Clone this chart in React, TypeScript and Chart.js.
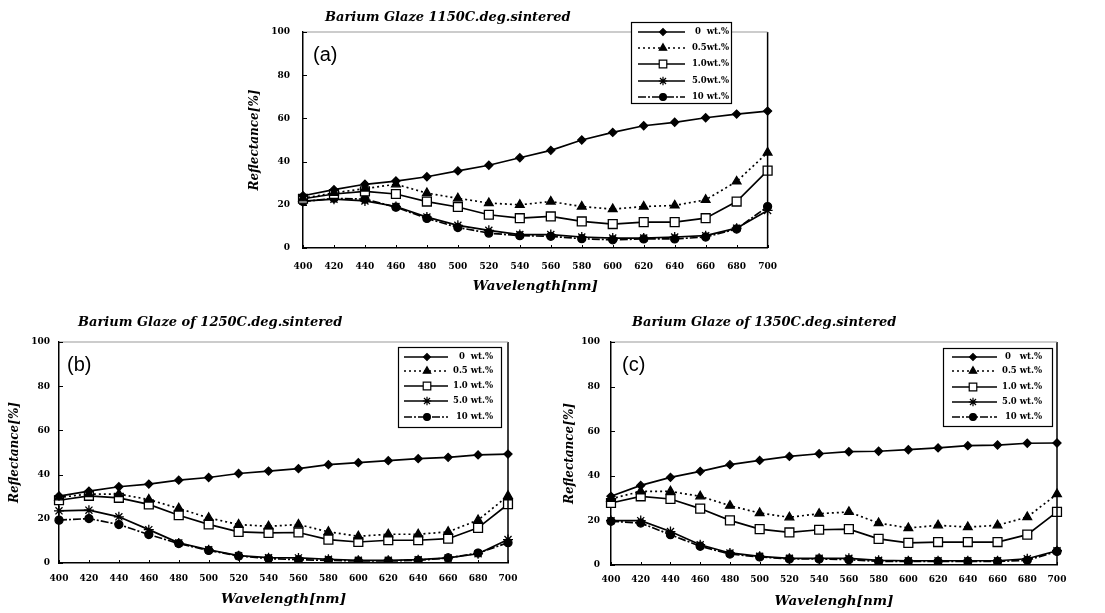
import React, { useEffect, useRef } from 'react';
import { Chart, registerables } from 'chart.js';
import { drawPoint } from 'chart.js/helpers';

Chart.register(...registerables);

const wavelengths = [400, 420, 440, 460, 480, 500, 520, 540, 560, 580, 600, 620, 640, 660, 680, 700];
const yTickValues = [0, 20, 40, 60, 80, 100];

// Panel (a) 1150C
const a0 = [24.2, 27.0, 29.5, 31.0, 33.0, 35.7, 38.3, 41.8, 45.2, 50.0, 53.5, 56.6, 58.2, 60.3, 62.0, 63.4];
const a05 = [23.0, 25.5, 27.5, 29.5, 25.4, 23.0, 20.8, 20.0, 21.5, 19.2, 18.0, 19.2, 19.7, 22.3, 30.8, 44.2];
const a1 = [22.8, 25.0, 26.2, 25.0, 21.5, 19.0, 15.4, 13.8, 14.6, 12.3, 11.1, 12.0, 12.0, 13.8, 21.5, 35.8];
const a5 = [21.7, 22.6, 21.8, 19.2, 14.3, 10.5, 8.2, 6.2, 6.2, 5.1, 4.6, 4.6, 5.1, 5.7, 9.2, 17.4];
const a10 = [21.5, 23.0, 22.6, 18.9, 13.7, 9.5, 6.9, 5.7, 5.4, 4.3, 3.8, 4.2, 4.2, 5.1, 8.8, 19.2];

// Panel (b) 1250C
const b0 = [30.3, 32.5, 34.5, 35.7, 37.5, 38.7, 40.5, 41.6, 42.7, 44.5, 45.4, 46.3, 47.2, 47.8, 48.9, 49.3];
const b05 = [29.7, 31.2, 31.2, 28.7, 24.7, 20.4, 17.4, 16.6, 17.4, 14.1, 12.1, 13.0, 13.0, 14.1, 19.4, 30.4];
const b1 = [28.4, 30.4, 29.5, 26.5, 21.6, 17.5, 14.1, 13.6, 13.8, 10.6, 9.5, 10.3, 10.3, 11.0, 15.9, 26.6];
const b5 = [23.6, 23.9, 20.9, 15.1, 9.1, 6.0, 3.3, 2.4, 2.3, 1.7, 1.2, 1.2, 1.5, 2.3, 4.2, 10.6];
const b10 = [19.4, 20.1, 17.4, 12.9, 8.8, 5.7, 3.2, 2.0, 1.5, 1.2, 0.9, 0.9, 1.2, 2.3, 4.5, 9.2];

// Panel (c) 1350C
const c0 = [30.8, 35.7, 39.3, 42.0, 45.0, 46.9, 48.7, 49.9, 50.8, 51.0, 51.7, 52.5, 53.5, 53.8, 54.6, 54.7];
const c05 = [29.7, 33.0, 33.0, 30.8, 26.6, 23.3, 21.4, 23.0, 23.8, 18.8, 16.6, 17.8, 17.0, 17.8, 21.5, 31.8];
const c1 = [27.8, 30.8, 29.6, 25.3, 20.0, 16.1, 14.6, 15.8, 16.1, 11.7, 9.9, 10.3, 10.3, 10.3, 13.6, 23.8];
const c5 = [19.9, 19.9, 15.0, 9.1, 5.4, 3.9, 3.0, 3.0, 3.0, 2.1, 1.9, 1.9, 1.9, 1.9, 2.8, 6.4];
const c10 = [19.6, 18.8, 13.6, 8.4, 4.9, 3.6, 2.7, 2.7, 2.4, 1.6, 1.6, 1.6, 1.6, 1.6, 2.1, 6.1];

const legendA = ['0  wt.%', '0.5wt.%', '1.0wt.%', '5.0wt.%', '10 wt.%'];
const legendB = ['0  wt.%', '0.5 wt.%', '1.0 wt.%', '5.0 wt.%', '10 wt.%'];
const legendC = ['0   wt.%', '0.5 wt.%', '1.0 wt.%', '5.0 wt.%', '10 wt.%'];

const titleA = 'Barium Glaze 1150C.deg.sintered';
const titleB = 'Barium Glaze of 1250C.deg.sintered';
const titleC = 'Barium Glaze of 1350C.deg.sintered';

const SERIES_STYLES = [
  { pointStyle: 'rectRot', radius: 4, bg: '#000', dash: [] as number[] },
  { pointStyle: 'triangle', radius: 5, bg: '#000', dash: [2, 3] },
  { pointStyle: 'rect', radius: 6.3, bg: '#fff', dash: [] as number[] },
  { pointStyle: 'star', radius: 5, bg: '#000', dash: [] as number[] },
  { pointStyle: 'circle', radius: 4, bg: '#000', dash: [8, 2, 2, 2] },
];

const SERIF = "'DejaVu Serif', serif";

const decorPlugin = {
  id: 'decor',
  afterDraw(chart: any, _args: any, opts: any) {
    const { ctx, chartArea: ca, scales } = chart;
    ctx.save();
    // top + right frame
    ctx.strokeStyle = '#000';
    ctx.lineWidth = 1.5;
    ctx.beginPath();
    ctx.moveTo(ca.right, ca.top);
    ctx.lineTo(ca.right, ca.bottom);
    ctx.stroke();
    ctx.strokeStyle = '#999';
    ctx.lineWidth = 1;
    ctx.beginPath();
    ctx.moveTo(ca.left, ca.top);
    ctx.lineTo(ca.right, ca.top);
    ctx.stroke();
    // inward ticks
    ctx.strokeStyle = '#000';
    ctx.lineWidth = 1;
    ctx.beginPath();
    scales.y.ticks.forEach((t: any) => {
      const py = Math.round(scales.y.getPixelForValue(t.value)) + 0.5;
      ctx.moveTo(ca.left, py);
      ctx.lineTo(ca.left + 4, py);
    });
    scales.x.ticks.forEach((_t: any, i: number) => {
      const px = Math.round(scales.x.getPixelForTick(i)) + 0.5;
      ctx.moveTo(px, ca.bottom);
      ctx.lineTo(px, ca.bottom - 3);
    });
    ctx.stroke();
    // title
    ctx.fillStyle = '#000';
    ctx.font = `italic bold 13px ${SERIF}`;
    ctx.textAlign = 'left';
    ctx.textBaseline = 'middle';
    ctx.fillText(opts.title, opts.titleX, opts.titleY);
    // panel label
    ctx.font = "20px 'Liberation Sans', Arial, sans-serif";
    ctx.fillText(opts.panel, opts.panelX, opts.panelY);
    // legend
    const L = opts.legend;
    ctx.fillStyle = '#fff';
    ctx.fillRect(L.x1, L.y1, L.x2 - L.x1, L.y2 - L.y1);
    ctx.strokeStyle = '#000';
    ctx.lineWidth = 1.2;
    ctx.strokeRect(L.x1 + 0.5, L.y1 + 0.5, L.x2 - L.x1, L.y2 - L.y1);
    chart.data.datasets.forEach((ds: any, i: number) => {
      const y = L.rows[i];
      ctx.strokeStyle = '#000';
      ctx.lineWidth = 1.4;
      ctx.setLineDash(ds.borderDash || []);
      ctx.beginPath();
      ctx.moveTo(L.lx1, y);
      ctx.lineTo(L.lx2, y);
      ctx.stroke();
      ctx.setLineDash([]);
      ctx.fillStyle = ds.pointBackgroundColor;
      ctx.strokeStyle = '#000';
      ctx.lineWidth = 1.2;
      drawPoint(ctx, { pointStyle: ds.pointStyle, radius: ds.pointRadius * 0.85, rotation: 0, borderWidth: 1.2 } as any, L.mx, y);
      ctx.fillStyle = '#000';
      ctx.font = `bold 8.5px ${SERIF}`;
      ctx.textAlign = 'right';
      ctx.textBaseline = 'middle';
      ctx.fillText(ds.label, L.tx, y);
    });
    ctx.restore();
  },
};

type PanelProps = {
  left: number; top: number; width: number; height: number;
  plot: { left: number; right: number; top: number; bottom: number };
  series: number[][];
  names: string[];
  title: string; titleX: number; titleY: number;
  panel: string; panelX: number; panelY: number;
  xTitle: string;
  yTitlePad: number; yTickPad: number; xTickPad: number; xTitlePad: number;
  legend: any;
};

function Panel(p: PanelProps) {
  const ref = useRef<HTMLCanvasElement>(null);
  useEffect(() => {
    if (!ref.current) return;
    const yWidth = p.plot.left;
    const xHeight = p.height - p.plot.bottom;
    const chart = new Chart(ref.current, {
      type: 'line',
      data: {
        labels: wavelengths.map(String),
        datasets: p.series.map((vals, i) => {
          const st = SERIES_STYLES[i];
          return {
            label: p.names[i],
            data: vals,
            borderColor: '#000',
            borderWidth: 1.7,
            borderDash: st.dash,
            pointStyle: st.pointStyle as any,
            pointRadius: st.radius,
            pointBackgroundColor: st.bg,
            pointBorderColor: '#000',
            pointBorderWidth: 1.3,
            tension: 0,
            fill: false,
          };
        }),
      },
      options: {
        responsive: false,
        animation: false,
        devicePixelRatio: 1,
        events: [],
        layout: { padding: { left: 0, top: p.plot.top, right: p.width - p.plot.right, bottom: 0 } },
        plugins: {
          legend: { display: false },
          tooltip: { enabled: false },
          title: { display: false },
          decor: {
            title: p.title, titleX: p.titleX, titleY: p.titleY,
            panel: p.panel, panelX: p.panelX, panelY: p.panelY,
            legend: p.legend,
          },
        } as any,
        scales: {
          x: {
            type: 'category',
            offset: false,
            grid: { display: false, drawTicks: false },
            border: { display: true, color: '#000', width: 1.5 },
            ticks: {
              autoSkip: false, maxRotation: 0, color: '#000', padding: p.xTickPad,
              font: { family: SERIF, size: 9, weight: 'bold' },
            },
            title: {
              display: true, text: p.xTitle, color: '#000',
              font: { family: SERIF, size: 13.5, weight: 'bold', style: 'italic' },
              padding: { top: 0, bottom: p.xTitlePad },
            },
            afterFit: (s: any) => { s.height = xHeight; },
          },
          y: {
            min: 0, max: 100,
            grid: { display: false, drawTicks: false },
            border: { display: true, color: '#000', width: 1.5 },
            afterBuildTicks: (s: any) => { s.ticks = yTickValues.map((v) => ({ value: v })); },
            ticks: {
              color: '#000', padding: p.yTickPad,
              font: { family: SERIF, size: 9, weight: 'bold' },
            },
            title: {
              display: true, text: 'Reflectance[%]', color: '#000',
              font: { family: SERIF, size: 12, weight: 'bold', style: 'italic' },
              padding: { top: p.yTitlePad, bottom: 0 },
            },
            afterFit: (s: any) => { s.width = yWidth; },
          },
        },
      },
      plugins: [decorPlugin as any],
    });
    return () => chart.destroy();
  }, []);
  return (
    <canvas
      ref={ref}
      width={p.width}
      height={p.height}
      style={{ position: 'absolute', left: p.left, top: p.top, width: p.width, height: p.height }}
    />
  );
}

export default function App() {
  return (
    <div style={{ position: 'fixed', left: 0, top: 0, width: 1105, height: 613, background: '#fff', overflow: 'hidden' }}>
      <Panel
        left={230} top={0} width={560} height={300}
        plot={{ left: 73, right: 539, top: 32, bottom: 248 }}
        series={[a0, a05, a1, a5, a10]} names={legendA}
        title={titleA} titleX={95} titleY={18}
        panel="(a)" panelX={83} panelY={55}
        xTitle="Wavelength[nm]"
        yTitlePad={18} yTickPad={13} xTickPad={13} xTitlePad={5}
        legend={{ x1: 401, y1: 22, x2: 501, y2: 103, rows: [32, 48, 64, 81, 97], lx1: 408, lx2: 455, mx: 433, tx: 499 }}
      />
      <Panel
        left={0} top={300} width={540} height={313}
        plot={{ left: 59, right: 508, top: 42, bottom: 263 }}
        series={[b0, b05, b1, b5, b10]} names={legendB}
        title={titleB} titleX={78} titleY={23}
        panel="(b)" panelX={67} panelY={65}
        xTitle="Wavelength[nm]"
        yTitlePad={8} yTickPad={9} xTickPad={10} xTitlePad={5}
        legend={{ x1: 398, y1: 47, x2: 501, y2: 127, rows: [57, 71, 86, 101, 117], lx1: 404, lx2: 448, mx: 427, tx: 493 }}
      />
      <Panel
        left={550} top={300} width={555} height={313}
        plot={{ left: 61, right: 507, top: 42, bottom: 265 }}
        series={[c0, c05, c1, c5, c10]} names={legendC}
        title={titleC} titleX={82} titleY={23}
        panel="(c)" panelX={72} panelY={65}
        xTitle="Wavelengh[nm]"
        yTitlePad={13} yTickPad={11} xTickPad={9} xTitlePad={3}
        legend={{ x1: 393, y1: 48, x2: 502, y2: 126, rows: [57, 71, 87, 102, 117], lx1: 402, lx2: 447, mx: 423, tx: 492 }}
      />
    </div>
  );
}
